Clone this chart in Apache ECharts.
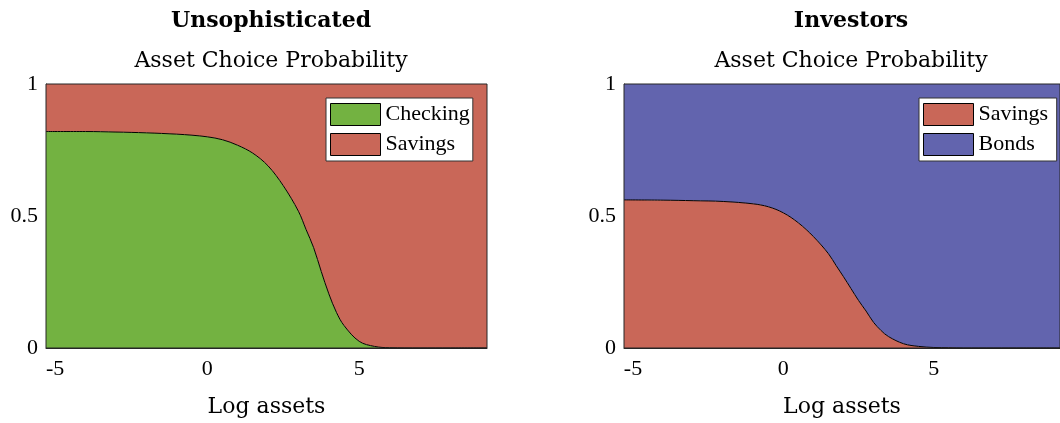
<!DOCTYPE html>
<html>
<head>
<meta charset="utf-8">
<script src="https://cdn.jsdelivr.net/npm/echarts@6/dist/echarts.min.js"></script>
<style>html,body{margin:0;padding:0;background:#fff;}#c{width:1060px;height:423px;}</style>
</head>
<body>
<div id="c"></div>
<script>
// Log assets grid (x values), Unsophisticated panel
const logAssetsU = [-5.3, -4, -3, -2, -1, -0.5, 0, 0.5, 1, 1.5, 2, 2.5, 3, 3.25, 3.5, 3.75, 4, 4.25, 4.5, 5, 5.5, 6, 7, 8, 9.2];
// Unsophisticated: probability of Checking (Savings is the rest, up to 1)
const unsophChecking = [0.820, 0.820, 0.818, 0.815, 0.810, 0.806, 0.800, 0.789, 0.768, 0.738, 0.690, 0.615, 0.518, 0.449, 0.380, 0.290, 0.205, 0.135, 0.085, 0.025, 0.006, 0.001, 0, 0, 0];
// Log assets grid (x values), Investors panel
const logAssetsI = [-5.3, -4, -3, -2, -1, -0.5, 0, 0.5, 1, 1.5, 1.75, 2, 2.25, 2.5, 2.75, 3, 3.25, 3.5, 4, 4.5, 5, 5.5, 6, 7, 8, 9.2];
// Investors: probability of Savings (Bonds is the rest, up to 1)
const investSavings = [0.561, 0.560, 0.558, 0.555, 0.546, 0.535, 0.512, 0.474, 0.422, 0.357, 0.313, 0.270, 0.225, 0.180, 0.140, 0.097, 0.066, 0.043, 0.016, 0.006, 0.002, 0.001, 0, 0, 0, 0];
const xTicks = [-5, 0, 5];
const yTicks = [0, 0.5, 1];
const titles = ['Unsophisticated', 'Investors'];
const subtitle = 'Asset Choice Probability';
const xLabel = 'Log assets';

const GREEN = '#73B241', RED = '#C96758', BLUE = '#6264AE';
const FONT = 'Liberation Serif';
const TFONT = 'DejaVu Serif';
const AX = '#262626';

function pairs(xs, ys) { return xs.map((x, i) => [x, ys[i]]); }

const grids = [
  {left: 46, top: 84, width: 441, height: 264},
  {left: 624, top: 84, width: 444, height: 264}
];

function legend(left, items) {
  return {orient: 'vertical', left: left, top: 98, padding: [5, 3, 5, 4], itemGap: 7, itemWidth: 50, itemHeight: 22,
    backgroundColor: '#fff', borderColor: '#333', borderWidth: 1, borderRadius: 0,
    textStyle: {fontFamily: FONT, fontSize: 22, color: '#000'},
    icon: 'rect',
    data: items.map(it => ({name: it[0], itemStyle: {color: it[1], borderColor: '#000', borderWidth: 1}}))};
}

function area(name, data, xi, color, origin, withLine) {
  return {name: name, type: 'line', xAxisIndex: xi, yAxisIndex: xi, data: data,
    smooth: 0.35, showSymbol: false, symbol: 'none',
    lineStyle: withLine ? {color: '#000', width: 1} : {width: 0, opacity: 0},
    areaStyle: {color: color, opacity: 1, origin: origin}, itemStyle: {color: color},
    z: withLine ? 3 : 2};
}

const option = {
  backgroundColor: '#fff',
  animation: false,
  textStyle: {fontFamily: FONT},
  title: [
    {text: titles[0], left: 266, top: 5, textAlign: 'center', textStyle: {fontFamily: TFONT, fontWeight: 'bold', fontSize: 22, color: '#000'}},
    {text: subtitle, left: 266, top: 45, textAlign: 'center', textStyle: {fontFamily: TFONT, fontWeight: 'normal', fontSize: 22, color: '#000'}},
    {text: titles[1], left: 846, top: 5, textAlign: 'center', textStyle: {fontFamily: TFONT, fontWeight: 'bold', fontSize: 22, color: '#000'}},
    {text: subtitle, left: 846, top: 45, textAlign: 'center', textStyle: {fontFamily: TFONT, fontWeight: 'normal', fontSize: 22, color: '#000'}}
  ],
  legend: [
    legend(326, [['Checking', GREEN], ['Savings', RED]]),
    legend(919, [['Savings ', RED], ['Bonds', BLUE]])
  ],
  grid: grids.map(g => Object.assign({show: true, borderColor: AX, borderWidth: 1, backgroundColor: 'transparent', z: 10}, g)),
  xAxis: [0, 1].map(i => ({
    type: 'value', gridIndex: i, min: -5.3, max: 9.2,
    name: xLabel, nameLocation: 'middle', nameGap: 48,
    nameTextStyle: {fontFamily: TFONT, fontSize: 22, color: '#000'},
    axisLine: {show: true, onZero: false, lineStyle: {color: AX, width: 1}},
    axisTick: {show: true, inside: true, length: 4, customValues: xTicks, lineStyle: {color: AX}},
    axisLabel: {customValues: xTicks, margin: 10, fontFamily: FONT, fontSize: 22, color: '#000', formatter: v => String(v)},
    splitLine: {show: false}
  })),
  yAxis: [0, 1].map(i => ({
    type: 'value', gridIndex: i, min: 0, max: 1,
    axisLine: {show: true, onZero: false, lineStyle: {color: AX, width: 1}},
    axisTick: {show: true, inside: true, length: 4, customValues: yTicks, lineStyle: {color: AX}},
    axisLabel: {customValues: yTicks, margin: 8, fontFamily: FONT, fontSize: 22, color: '#000', formatter: v => String(v)},
    splitLine: {show: false}
  })),
  series: [
    area('Savings', pairs(logAssetsU, unsophChecking), 0, RED, 'end', false),
    area('Checking', pairs(logAssetsU, unsophChecking), 0, GREEN, 'start', true),
    area('Bonds', pairs(logAssetsI, investSavings), 1, BLUE, 'end', false),
    area('Savings ', pairs(logAssetsI, investSavings), 1, RED, 'start', true)
  ]
};
const chart = echarts.init(document.getElementById('c'), null, {renderer: 'canvas'});
chart.setOption(option);
</script>
</body>
</html>
